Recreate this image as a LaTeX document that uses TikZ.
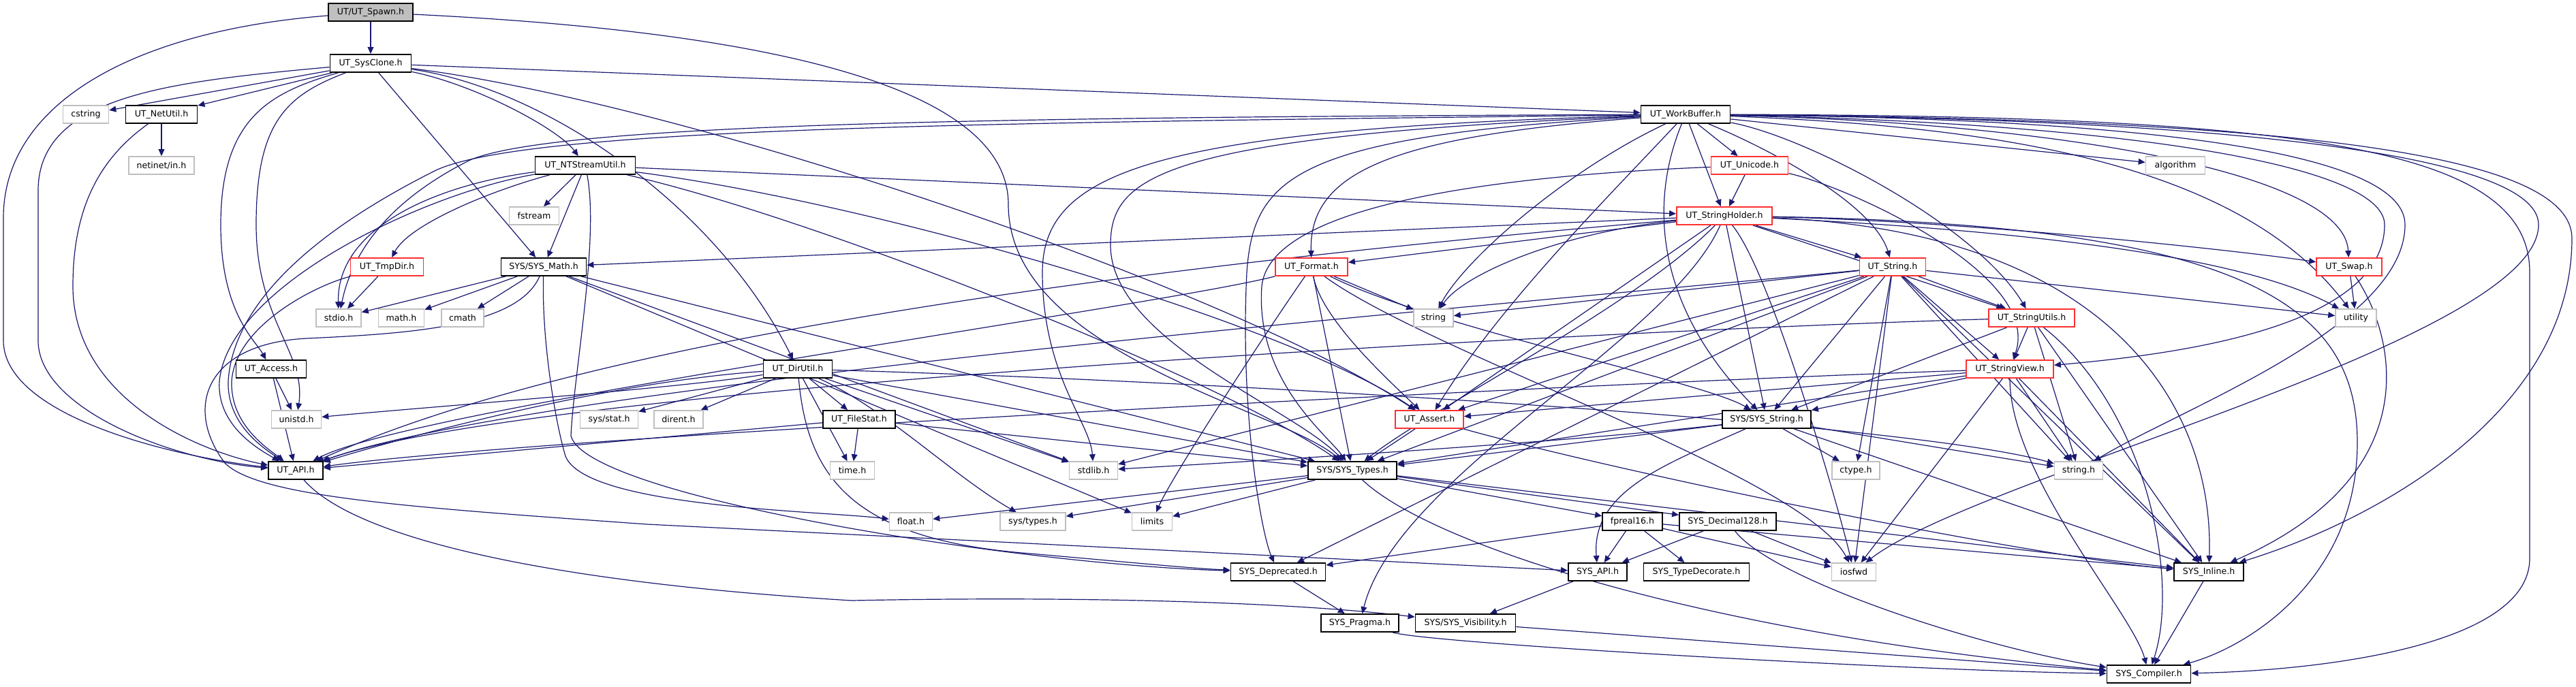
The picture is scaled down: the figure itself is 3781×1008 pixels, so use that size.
\documentclass[tikz,border=0pt]{standalone}
\usepackage{fontspec}
\setmainfont{DejaVu Sans}
\usetikzlibrary{arrows.meta,backgrounds}
\definecolor{navy}{HTML}{191970}
\definecolor{gbor}{HTML}{BFBFBF}
\definecolor{rbor}{HTML}{FF3030}
\begin{document}
\begin{tikzpicture}[x=0.5pt,y=-0.5pt,
  nd/.style={draw=black,line width=0.9pt,fill=white,minimum height=13pt,inner sep=0pt,font=\fontsize{6.3}{7.5}\selectfont},
  ext/.style={nd,draw=gbor,line width=0.8pt},
  trunc/.style={nd,draw=rbor},
  e/.style={draw=navy,line width=0.6pt,-{Triangle[length=5pt,width=4.4pt]}}]
\useasboundingbox (0,0) rectangle (3781,1008);
% nodes
\node[nd,fill=gbor,minimum width=62pt] (spawn) at (544,18) {UT/UT\_Spawn.h};
\node[nd,minimum width=59.5pt] (sysclone) at (544,93) {UT\_SysClone.h};
\node[ext,minimum width=33.5pt] (cstring) at (126,168) {cstring};
\node[nd,minimum width=52.5pt] (netutil) at (237,168) {UT\_NetUtil.h};
\node[nd,minimum width=65.5pt] (workbuffer) at (2474,168) {UT\_WorkBuffer.h};
\node[ext,minimum width=48pt] (netinet) at (237,243) {netinet/in.h};
\node[nd,minimum width=73.5pt] (ntstream) at (859,243) {UT\_NTStreamUtil.h};
\node[trunc,minimum width=56.5pt] (unicode) at (2568,243) {UT\_Unicode.h};
\node[ext,minimum width=43.5pt] (algorithm) at (3193,243) {algorithm};
\node[ext,minimum width=36.5pt] (fstream) at (784,317) {fstream};
\node[trunc,minimum width=70pt] (stringholder) at (2531,317) {UT\_StringHolder.h};
\node[trunc,minimum width=53.5pt] (tmpdir) at (568,392) {UT\_TmpDir.h};
\node[nd,minimum width=62.5pt] (sysmath) at (798,392) {SYS/SYS\_Math.h};
\node[trunc,minimum width=53pt] (format) at (1925,392) {UT\_Format.h};
\node[trunc,minimum width=48.5pt] (utstring) at (2778,392) {UT\_String.h};
\node[trunc,minimum width=48pt] (swap) at (3448,392) {UT\_Swap.h};
\node[ext,minimum width=33pt] (stdio) at (497,467) {stdio.h};
\node[ext,minimum width=33.5pt] (mathh) at (589,467) {math.h};
\node[ext,minimum width=31pt] (cmath) at (679,467) {cmath};
\node[ext,minimum width=29pt] (string) at (2104,467) {string};
\node[trunc,minimum width=63pt] (stringutils) at (2982,467) {UT\_StringUtils.h};
\node[ext,minimum width=30pt] (utility) at (3458,467) {utility};
\node[nd,minimum width=51.5pt] (access) at (398,542) {UT\_Access.h};
\node[nd,minimum width=50.5pt] (dirutil) at (1171,542) {UT\_DirUtil.h};
\node[trunc,minimum width=64pt] (stringview) at (2950,542) {UT\_StringView.h};
\node[ext,minimum width=36.5pt] (unistd) at (435,616) {unistd.h};
\node[ext,minimum width=42.5pt] (sysstat) at (894,616) {sys/stat.h};
\node[ext,minimum width=36pt] (dirent) at (996,616) {dirent.h};
\node[nd,minimum width=53pt] (filestat) at (1261,616) {UT\_FileStat.h};
\node[trunc,minimum width=50pt] (assert) at (2098,616) {UT\_Assert.h};
\node[nd,minimum width=65pt] (sysstring) at (2593,616) {SYS/SYS\_String.h};
\node[nd,minimum width=40pt] (utapi) at (434,691) {UT\_API.h};
\node[ext,minimum width=32.5pt] (timeh) at (1251,691) {time.h};
\node[ext,minimum width=35.5pt] (stdlib) at (1605,691) {stdlib.h};
\node[nd,minimum width=65pt] (systypes) at (1985,691) {SYS/SYS\_Types.h};
\node[ext,minimum width=35pt] (ctype) at (2724,691) {ctype.h};
\node[ext,minimum width=35.5pt] (stringh) at (3051,691) {string.h};
\node[ext,minimum width=31.5pt] (floath) at (1337,766) {float.h};
\node[ext,minimum width=48pt] (systypesh) at (1516,766) {sys/types.h};
\node[ext,minimum width=29.5pt] (limits) at (1691,766) {limits};
\node[nd,minimum width=44pt] (fpreal) at (2396,766) {fpreal16.h};
\node[nd,minimum width=71pt] (decimal) at (2536,766) {SYS\_Decimal128.h};
\node[nd,minimum width=69.5pt] (deprecated) at (1876,840) {SYS\_Deprecated.h};
\node[nd,minimum width=43pt] (sysapi) at (2345,840) {SYS\_API.h};
\node[nd,minimum width=77.5pt] (typedecorate) at (2490,840) {SYS\_TypeDecorate.h};
\node[ext,minimum width=32.5pt] (iosfwd) at (2721,840) {iosfwd};
\node[nd,minimum width=51pt] (inline) at (3242,840) {SYS\_Inline.h};
\node[nd,minimum width=57pt] (pragma) at (1996,915) {SYS\_Pragma.h};
\node[nd,minimum width=73.5pt] (visibility) at (2151,915) {SYS/SYS\_Visibility.h};
\node[nd,minimum width=61.5pt] (compiler) at (3154,990) {SYS\_Compiler.h};
\begin{scope}[on background layer]
\fill[white] (0,0) rectangle (3781,1008);
% Spawn
\draw[e] (spawn) -- (sysclone);
\draw[e] (spawn) .. controls (200,45) and (5,150) .. (5,320) -- (5,500) .. controls (5,610) and (250,670) .. (utapi);
\draw[e] (spawn) .. controls (1100,45) and (1480,120) .. (1480,300) .. controls (1480,520) and (1880,600) .. (systypes);
% SysClone
\draw[e] (sysclone) -- (cstring);
\draw[e] (sysclone) -- (netutil);
\draw[e] (sysclone) -- (workbuffer);
\draw[e] (sysclone) .. controls (700,125) and (820,190) .. (ntstream);
\draw[e] (sysclone) .. controls (250,120) and (56,140) .. (56,280) -- (56,500) .. controls (56,600) and (250,675) .. (utapi);
\draw[e] (sysclone) .. controls (400,135) and (324,170) .. (324,330) .. controls (324,460) and (375,500) .. (access);
\draw[e] (sysclone) .. controls (420,140) and (376,180) .. (376,330) .. controls (376,470) and (450,520) .. (unistd);
\draw[e] (sysclone) -- (sysmath);
\draw[e] (sysclone) .. controls (800,130) and (1050,300) .. (dirutil);
\draw[e] (sysclone) .. controls (1000,150) and (1800,420) .. (assert);
% NetUtil
\draw[e] (netutil) -- (netinet);
\draw[e] (netutil) .. controls (150,230) and (107,300) .. (107,420) .. controls (107,590) and (300,665) .. (utapi);
% NTStreamUtil
\draw[e] (ntstream) -- (fstream);
\draw[e] (ntstream) .. controls (720,280) and (600,330) .. (tmpdir);
\draw[e] (ntstream) -- (sysmath);
\draw[e] (ntstream) .. controls (650,270) and (494,330) .. (stdio);
\draw[e] (ntstream) .. controls (620,285) and (335,420) .. (322,560) .. controls (318,625) and (380,660) .. (utapi);
\draw[e] (ntstream) -- (stringholder);
\draw[e] (ntstream) .. controls (1200,320) and (1800,560) .. (systypes);
\draw[e] (ntstream) .. controls (880,350) and (842,550) .. (838,640) .. controls (860,730) and (1500,830) .. (deprecated);
\draw[e] (ntstream) .. controls (1300,300) and (1900,480) .. (assert);
% WorkBuffer
\draw[e] (workbuffer) -- (unicode);
\draw[e] (workbuffer) -- (stringholder);
\draw[e] (workbuffer) -- (algorithm);
\draw[e] (workbuffer) .. controls (1500,180) and (780,185) .. (640,250) .. controls (420,360) and (340,470) .. (335,560) .. controls (333,625) and (390,660) .. (utapi);
\draw[e] (workbuffer) .. controls (1500,172) and (820,180) .. (690,235) .. controls (560,300) and (515,380) .. (stdio);
\draw[e] (workbuffer) .. controls (2050,200) and (1921,250) .. (format);
\draw[e] (workbuffer) .. controls (2300,250) and (2150,380) .. (string);
\draw[e] (workbuffer) .. controls (2420,300) and (2430,450) .. (sysstring);
\draw[e] (workbuffer) .. controls (2600,220) and (2750,300) .. (utstring);
\draw[e] (workbuffer) .. controls (2650,200) and (2900,330) .. (stringutils);
\draw[e] (workbuffer) .. controls (2900,185) and (3280,230) .. (utility);
\draw[e] (workbuffer) .. controls (3000,180) and (3440,250) .. (swap);
\draw[e] (workbuffer) .. controls (3100,180) and (3500,240) .. (3500,330) .. controls (3500,480) and (3200,520) .. (stringview);
\draw[e] (workbuffer) .. controls (3200,175) and (3530,230) .. (3530,330) .. controls (3530,480) and (3200,600) .. (stringh);
\draw[e] (workbuffer) .. controls (3300,175) and (3726,230) .. (3726,330) .. controls (3726,500) and (2900,700) .. (iosfwd);
\draw[e] (workbuffer) .. controls (3400,175) and (3775,230) .. (3775,350) .. controls (3775,600) and (3500,760) .. (inline);
\draw[e] (workbuffer) .. controls (3400,170) and (3713,220) .. (3713,400) -- (3713,820) .. controls (3713,950) and (3400,985) .. (compiler);
\draw[e] (workbuffer) .. controls (2350,300) and (2200,450) .. (assert);
\draw[e] (workbuffer) .. controls (1700,190) and (1530,250) .. (1530,400) .. controls (1530,550) and (1600,620) .. (stdlib);
\draw[e] (workbuffer) .. controls (1900,200) and (1840,260) .. (1830,400) .. controls (1820,600) and (1850,780) .. (deprecated);
\draw[e] (workbuffer) .. controls (1700,200) and (1630,260) .. (1630,360) .. controls (1630,500) and (1900,600) .. (systypes);
% Unicode
\draw[e] (unicode) -- (stringholder);
\draw[e] (unicode) .. controls (2200,258) and (1865,300) .. (1852,420) .. controls (1842,560) and (1950,640) .. (systypes);
\draw[e] (unicode) .. controls (2700,270) and (3000,400) .. (stringview);
% StringHolder
\draw[e] (stringholder) -- (sysmath);
\draw[e] (stringholder) -- (format);
\draw[e] (stringholder) -- (utstring);
\draw[e] (stringholder) .. controls (2900,325) and (3300,370) .. (swap);
\draw[e] (stringholder) .. controls (2300,340) and (2150,400) .. (string);
\draw[e] (stringholder) .. controls (3000,340) and (3300,380) .. (utility);
\draw[e] (stringholder) -- (stringutils);
\draw[e] (stringholder) .. controls (1800,380) and (900,480) .. (utapi);
\draw[e] (stringholder) -- (assert);
\draw[e] (stringholder) -- (sysstring);
\draw[e] (stringholder) .. controls (2400,450) and (2100,600) .. (systypes);
\draw[e] (stringholder) .. controls (2450,500) and (2050,700) .. (pragma);
\draw[e] (stringholder) .. controls (2600,400) and (2700,750) .. (iosfwd);
\draw[e] (stringholder) .. controls (3100,340) and (3250,600) .. (inline);
\draw[e] (stringholder) .. controls (3300,330) and (3460,450) .. (3460,650) .. controls (3460,850) and (3300,950) .. (compiler);
% Format
\draw[e] (format) -- (string);
\draw[e] (format) .. controls (1700,450) and (600,600) .. (utapi);
\draw[e] (format) .. controls (1940,470) and (2040,560) .. (assert);
\draw[e] (format) -- (systypes);
\draw[e] (format) .. controls (1850,500) and (1720,700) .. (limits);
\draw[e] (format) .. controls (2100,480) and (2500,560) .. (sysstring);
\draw[e] (format) .. controls (2100,520) and (2650,700) .. (iosfwd);
% UT_String
\draw[e] (utstring) -- (string);
\draw[e] (utstring) -- (stringutils);
\draw[e] (utstring) -- (stringview);
\draw[e] (utstring) -- (utility);
\draw[e] (utstring) -- (assert);
\draw[e] (utstring) -- (sysstring);
\draw[e] (utstring) -- (systypes);
\draw[e] (utstring) .. controls (2300,440) and (800,560) .. (utapi);
\draw[e] (utstring) -- (ctype);
\draw[e] (utstring) -- (stringh);
\draw[e] (utstring) -- (iosfwd);
\draw[e] (utstring) -- (inline);
\draw[e] (utstring) -- (deprecated);
\draw[e] (utstring) -- (stdlib);
% Swap
\draw[e] (swap) -- (utility);
\draw[e] (swap) .. controls (3520,500) and (3560,700) .. (inline);
% TmpDir
\draw[e] (tmpdir) -- (stdio);
\draw[e] (tmpdir) .. controls (460,420) and (345,480) .. (340,560) .. controls (338,625) and (395,660) .. (utapi);
% SYS_Math
\draw[e] (sysmath) -- (stdio);
\draw[e] (sysmath) -- (mathh);
\draw[e] (sysmath) -- (cmath);
\draw[e] (sysmath) -- (systypes);
\draw[e] (sysmath) .. controls (795,500) and (815,620) .. (830,670) .. controls (860,745) and (1200,750) .. (floath);
\draw[e] (sysmath) -- (limits);
\draw[e] (sysmath) -- (stdlib);
\draw[e] (sysmath) .. controls (760,480) and (600,490) .. (450,497) .. controls (300,505) and (270,600) .. (330,680) .. controls (380,730) and (600,745) .. (950,770) -- (sysapi);
% Access
\draw[e] (access) -- (utapi);
\draw[e] (access) -- (unistd);
% DirUtil
\draw[e] (dirutil) .. controls (900,560) and (600,640) .. (utapi);
\draw[e] (dirutil) .. controls (1000,570) and (600,600) .. (unistd);
\draw[e] (dirutil) -- (sysstat);
\draw[e] (dirutil) -- (dirent);
\draw[e] (dirutil) -- (filestat);
\draw[e] (dirutil) -- (timeh);
\draw[e] (dirutil) -- (stdlib);
\draw[e] (dirutil) -- (systypes);
\draw[e] (dirutil) .. controls (1300,600) and (1400,700) .. (systypesh);
\draw[e] (dirutil) .. controls (1185,700) and (1250,790) .. (1500,812) .. controls (1650,825) and (1750,835) .. (deprecated);
\draw[e] (dirutil) .. controls (1800,560) and (2800,620) .. (stringh);
% FileStat
\draw[e] (filestat) -- (utapi);
\draw[e] (filestat) -- (timeh);
\draw[e] (filestat) -- (systypes);
% StringUtils
\draw[e] (stringutils) -- (stringview);
\draw[e] (stringutils) -- (sysstring);
\draw[e] (stringutils) -- (stringh);
\draw[e] (stringutils) -- (inline);
\draw[e] (stringutils) .. controls (3150,600) and (3200,850) .. (compiler);
\draw[e] (stringutils) .. controls (2500,480) and (800,560) .. (utapi);
% StringView
\draw[e] (stringview) .. controls (2400,560) and (800,640) .. (utapi);
\draw[e] (stringview) -- (assert);
\draw[e] (stringview) -- (sysstring);
\draw[e] (stringview) -- (systypes);
\draw[e] (stringview) -- (stringh);
\draw[e] (stringview) -- (iosfwd);
\draw[e] (stringview) -- (inline);
\draw[e] (stringview) .. controls (2950,700) and (3130,900) .. (compiler);
% Assert
\draw[e] (assert) -- (systypes);
\draw[e] (assert) .. controls (2400,700) and (3000,820) .. (inline);
% SYS_String
\draw[e] (sysstring) -- (systypes);
\draw[e] (sysstring) .. controls (2300,650) and (1800,680) .. (stdlib);
\draw[e] (sysstring) -- (ctype);
\draw[e] (sysstring) -- (stringh);
\draw[e] (sysstring) -- (inline);
\draw[e] (sysstring) .. controls (2450,680) and (2335,720) .. (sysapi);
% UT_API
\draw[e] (utapi) .. controls (520,790) and (800,855) .. (1250,882) .. controls (1600,875) and (1900,885) .. (visibility);
% SYS_Types
\draw[e] (systypes) -- (floath);
\draw[e] (systypes) -- (systypesh);
\draw[e] (systypes) -- (limits);
\draw[e] (systypes) -- (fpreal);
\draw[e] (systypes) -- (decimal);
\draw[e] (systypes) -- (inline);
\draw[e] (systypes) .. controls (2100,800) and (2500,930) .. (compiler);
% fpreal16
\draw[e] (fpreal) -- (deprecated);
\draw[e] (fpreal) -- (sysapi);
\draw[e] (fpreal) -- (typedecorate);
\draw[e] (fpreal) -- (iosfwd);
\draw[e] (fpreal) -- (inline);
% Decimal128
\draw[e] (decimal) -- (sysapi);
\draw[e] (decimal) -- (iosfwd);
\draw[e] (decimal) .. controls (2600,850) and (2900,950) .. (compiler);
% bottom
\draw[e] (deprecated) -- (pragma);
\draw[e] (sysapi) -- (visibility);
\draw[e] (visibility) -- (compiler);
\draw[e] (pragma) .. controls (2100,945) and (2800,985) .. (compiler);
\draw[e] (inline) -- (compiler);
\end{scope}
\end{tikzpicture}
\end{document}
